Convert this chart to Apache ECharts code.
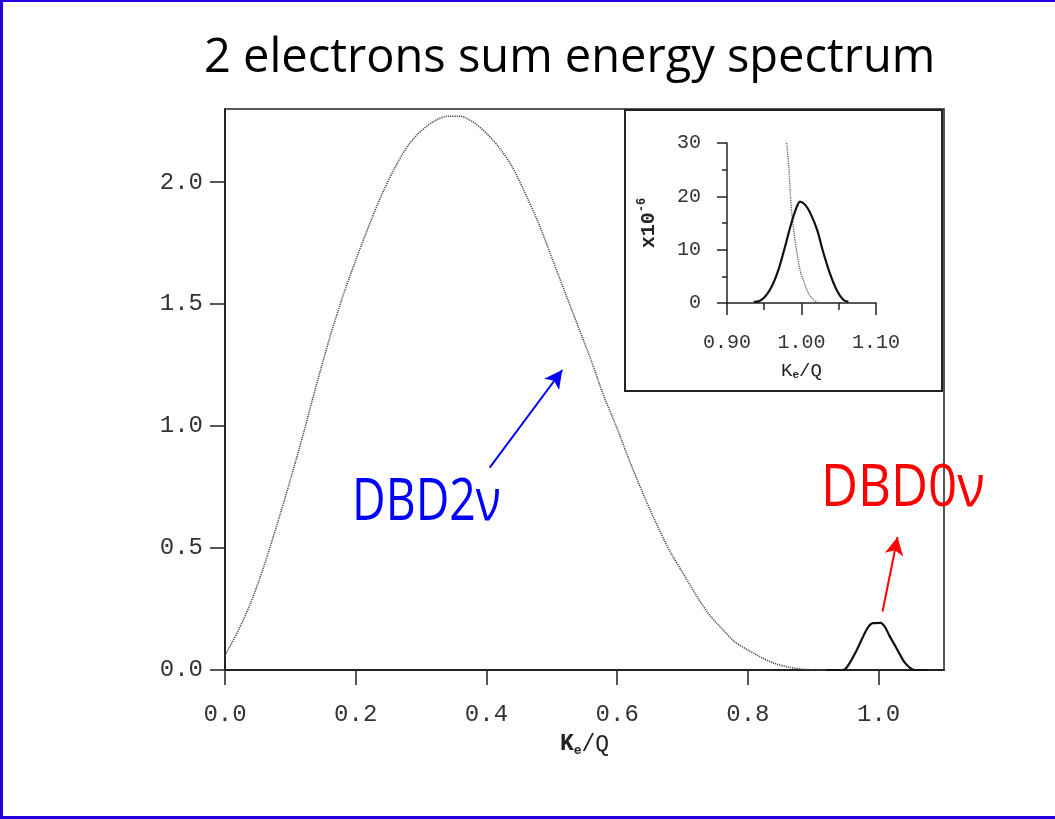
<!DOCTYPE html>
<html>
<head>
<meta charset="utf-8">
<script src="https://cdn.jsdelivr.net/npm/echarts@6/dist/echarts.min.js"></script>
<style>
  html, body { margin: 0; padding: 0; background: #fff; }
  #chart { width: 1055px; height: 819px; }
</style>
</head>
<body>
<div id="chart"></div>
<script>
// main panel, DBD2v spectrum (Ke/Q, arbitrary units)
const x2nu = [0.00, 0.02, 0.04, 0.06, 0.08, 0.10, 0.12, 0.14, 0.16, 0.18, 0.20, 0.22, 0.24, 0.26, 0.28, 0.30, 0.32, 0.34, 0.36, 0.38,
  0.40, 0.42, 0.44, 0.46, 0.48, 0.50, 0.52, 0.54, 0.56, 0.58, 0.60, 0.62, 0.64, 0.66, 0.68, 0.70, 0.72, 0.74, 0.76, 0.78,
  0.80, 0.82, 0.84, 0.86, 0.88, 0.90, 0.92]
const y2nu = [0.06, 0.16, 0.28, 0.43, 0.60, 0.78, 0.97, 1.17, 1.36, 1.53, 1.68, 1.82, 1.95, 2.06, 2.15, 2.21, 2.25, 2.27, 2.27, 2.245,
  2.20, 2.14, 2.06, 1.95, 1.83, 1.69, 1.55, 1.41, 1.27, 1.12, 0.99, 0.85, 0.72, 0.60, 0.49, 0.40, 0.31, 0.23, 0.17, 0.115,
  0.082, 0.052, 0.028, 0.013, 0.004, 0.001, 0]

// main panel, DBD0v peak
const x0nu = [0.92, 0.946, 0.956, 0.966, 0.975, 0.983, 0.991, 1.003, 1.010, 1.016, 1.024, 1.031, 1.040, 1.049, 1.055, 1.074]
const y0nu = [0, 0, 0.03, 0.079, 0.13, 0.172, 0.192, 0.193, 0.175, 0.143, 0.105, 0.071, 0.03, 0.007, 0, 0]

// inset (x10^-6)
const xIn0nu = [0.936, 0.938, 0.949, 0.960, 0.969, 0.978, 0.985, 0.992, 0.998, 1.005, 1.012, 1.021, 1.029, 1.038, 1.047, 1.056, 1.063]
const yIn0nu = [0.3, 0.2, 0.9, 3.1, 6.2, 10.6, 14.3, 17.4, 19.0, 18.4, 16.8, 13.7, 9.6, 5.6, 2.5, 0.6, 0.2]
const xIn2nu = [0.980, 0.983, 0.985, 0.987, 0.990, 0.994, 0.998, 1.004, 1.009, 1.016, 1.023]
const yIn2nu = [30, 25.5, 20.5, 16.8, 13.1, 9.3, 6.2, 3.7, 1.9, 0.6, 0.1]

const mainXTicks = [0, 0.2, 0.4, 0.6, 0.8, 1.0]
const mainYTicks = [0, 0.5, 1.0, 1.5, 2.0]

const zip = (xs, ys) => xs.map((x, i) => [x, ys[i]])

const mono = "'Courier New', 'Liberation Mono', monospace"
const comic = "'Comic Sans MS', 'Open Sans', sans-serif"
const ink = '#333'

const chart = echarts.init(document.getElementById('chart'))

const option = {
  animation: false,
  backgroundColor: '#fff',
  title: {
    text: '2 electrons sum energy spectrum',
    left: 199,
    top: 30,
    textStyle: { fontFamily: comic, fontSize: 47, fontWeight: 'normal', color: '#000' }
  },
  grid: [
    { left: 225, right: 111, top: 109, bottom: 149, show: true, borderColor: '#222', borderWidth: 1.5, outerBoundsMode: 'none' },
    { left: 727, right: 179, top: 143, bottom: 516, outerBoundsMode: 'none' }
  ],
  xAxis: [
    {
      type: 'value', gridIndex: 0, min: 0, max: 1.1, interval: 0.2,
      name: '{k|K}{e|e}{q|/Q}', nameLocation: 'middle', nameGap: 62,
      nameTextStyle: {
        rich: {
          k: { fontFamily: mono, fontSize: 23, fontWeight: 'bold', color: '#222' },
          e: { fontFamily: mono, fontSize: 13, fontWeight: 'bold', color: '#222', padding: [12, 0, 0, 0] },
          q: { fontFamily: mono, fontSize: 23, color: '#222' }
        }
      },
      axisLine: { onZero: false, lineStyle: { color: '#222', width: 2 } },
      axisTick: { length: 15, customValues: mainXTicks, lineStyle: { color: '#222', width: 1.5 } },
      axisLabel: { customValues: mainXTicks, margin: 33, fontFamily: mono, fontSize: 24, color: ink, formatter: v => v.toFixed(1) },
      splitLine: { show: false }
    },
    {
      type: 'value', gridIndex: 1, min: 0.9, max: 1.1, interval: 0.1,
      name: '{k|K}{e|e}{q|/Q}', nameLocation: 'middle', nameGap: 57,
      nameTextStyle: {
        rich: {
          k: { fontFamily: mono, fontSize: 19, color: '#222' },
          e: { fontFamily: mono, fontSize: 11, fontWeight: 'bold', color: '#222', padding: [10, 0, 0, 0] },
          q: { fontFamily: mono, fontSize: 19, color: '#222' }
        }
      },
      axisLine: { onZero: false, lineStyle: { color: '#222', width: 1.5 } },
      axisTick: { length: 12, lineStyle: { color: '#222', width: 1.5 } },
      minorTick: { show: true, splitNumber: 2, length: 7, lineStyle: { color: '#222', width: 1.5 } },
      axisLabel: { margin: 30, fontFamily: mono, fontSize: 20, color: ink, formatter: v => v.toFixed(2) },
      splitLine: { show: false }
    }
  ],
  yAxis: [
    {
      type: 'value', gridIndex: 0, min: 0, max: 2.3, interval: 0.5,
      axisLine: { show: true, onZero: false, lineStyle: { color: '#222', width: 2 } },
      axisTick: { show: true, length: 15, customValues: mainYTicks, lineStyle: { color: '#222', width: 1.5 } },
      axisLabel: { customValues: mainYTicks, margin: 22, fontFamily: mono, fontSize: 24, color: ink, formatter: v => v.toFixed(1) },
      splitLine: { show: false }
    },
    {
      type: 'value', gridIndex: 1, min: 0, max: 30, interval: 10,
      name: '{a|x10}{b|-6}', nameLocation: 'middle', nameRotate: 90, nameGap: 66,
      nameTextStyle: {
        rich: {
          a: { fontFamily: mono, fontSize: 20, fontWeight: 'bold', color: '#222' },
          b: { fontFamily: mono, fontSize: 12, fontWeight: 'bold', color: '#222', padding: [0, 0, 13, 0] }
        }
      },
      axisLine: { show: true, onZero: false, lineStyle: { color: '#222', width: 1.5 } },
      axisTick: { show: true, length: 10, lineStyle: { color: '#222', width: 1.5 } },
      minorTick: { show: true, splitNumber: 2, length: 5, lineStyle: { color: '#222', width: 1.5 } },
      axisLabel: { margin: 26, fontFamily: mono, fontSize: 20, color: ink },
      splitLine: { show: false }
    }
  ],
  series: [
    {
      name: 'DBD2v', type: 'line', xAxisIndex: 0, yAxisIndex: 0,
      data: zip(x2nu, y2nu), showSymbol: false, smooth: 0.3,
      lineStyle: { color: '#444', width: 1.5, type: [1.2, 1] },
      markLine: {
        silent: true, symbol: ['none', 'arrow'], symbolSize: [14, 18], label: { show: false },
        lineStyle: { color: '#0000ff', width: 2, type: 'solid' },
        data: [[{ coord: [0.405, 0.83] }, { coord: [0.516, 1.23] }]]
      }
    },
    {
      name: 'DBD0v', type: 'line', xAxisIndex: 0, yAxisIndex: 0,
      data: zip(x0nu, y0nu), showSymbol: false, smooth: 0.3,
      lineStyle: { color: '#111', width: 2.2 },
      markLine: {
        silent: true, symbol: ['none', 'arrow'], symbolSize: [14, 18], label: { show: false },
        lineStyle: { color: '#ff0000', width: 2, type: 'solid' },
        data: [[{ coord: [1.006, 0.24] }, { coord: [1.029, 0.545] }]]
      }
    },
    {
      name: 'DBD2v inset', type: 'line', xAxisIndex: 1, yAxisIndex: 1,
      data: zip(xIn2nu, yIn2nu), showSymbol: false, smooth: 0.3,
      lineStyle: { color: '#666', width: 1.4, type: [1.2, 1] }
    },
    {
      name: 'DBD0v inset', type: 'line', xAxisIndex: 1, yAxisIndex: 1,
      data: zip(xIn0nu, yIn0nu), showSymbol: false, smooth: 0.3,
      lineStyle: { color: '#111', width: 2.2 }
    }
  ],
  graphic: [
    // slide border
    { type: 'rect', shape: { x: 0, y: 0, width: 3, height: 819 }, style: { fill: '#2200dd' }, z: 100 },
    { type: 'rect', shape: { x: 0, y: 0, width: 1055, height: 2 }, style: { fill: '#2200dd' }, z: 100 },
    { type: 'rect', shape: { x: 0, y: 816, width: 1055, height: 3 }, style: { fill: '#2200dd' }, z: 100 },
    // inset frame
    { type: 'rect', shape: { x: 625, y: 110, width: 317, height: 281 }, style: { fill: 'none', stroke: '#222', lineWidth: 2 }, z: 50 },
    { type: 'text', x: 352, y: 474, scaleX: 0.8, style: { text: 'DBD2ν', font: 'normal 58px ' + comic, fill: '#0000ff' }, z: 60 },
    { type: 'text', x: 821, y: 460, scaleX: 0.88, style: { text: 'DBD0ν', font: 'normal 58px ' + comic, fill: '#ff0000' }, z: 60 }
  ]
}

chart.setOption(option)
</script>
</body>
</html>
